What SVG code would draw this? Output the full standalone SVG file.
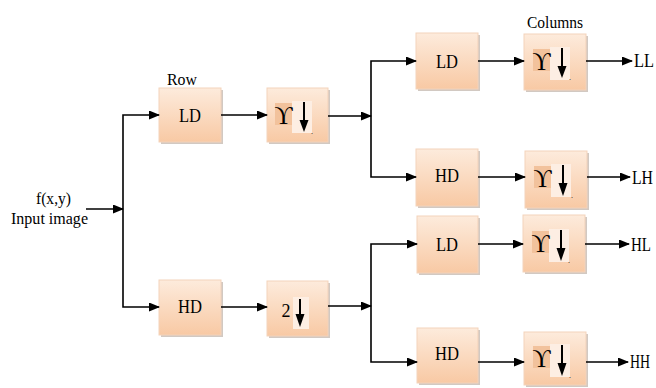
<svg xmlns="http://www.w3.org/2000/svg" width="656" height="388" viewBox="0 0 656 388">
<defs>
<linearGradient id="g" x1="0" y1="0" x2="0" y2="1">
<stop offset="0" stop-color="#fdebdc"/>
<stop offset="1" stop-color="#f8c9a4"/>
</linearGradient>
<marker id="ah" markerUnits="userSpaceOnUse" markerWidth="11" markerHeight="9" refX="10" refY="4.5" orient="auto">
<path d="M0,0 L11,4.5 L0,9 z" fill="#000"/>
</marker>
</defs>
<style>
.sh{fill:#d2c9c2}
.bx{fill:url(#g);stroke:#f3d3bb;stroke-width:1}
.t{font-family:"Liberation Serif","Times New Roman",serif;font-size:19px;fill:#000}
.l{font-family:"Liberation Serif","Times New Roman",serif;font-size:17px;fill:#000}
.u{font-family:"Liberation Serif","DejaVu Serif",serif;font-size:25px;fill:#000}
.dot{font-family:"Liberation Serif",serif;font-size:8px;fill:#000}
.two{font-family:"Liberation Serif",serif;font-size:18px;fill:#000}
.dk{fill:#f2c29c}
.lt{fill:#fdeee3}
.ca{fill:none;stroke:#000;stroke-width:1.6;marker-end:url(#ah)}
.da{stroke:#000;stroke-width:2}
</style>

<text class="l" x="167" y="85" textLength="30" lengthAdjust="spacingAndGlyphs">Row</text>
<text class="l" x="527" y="28" textLength="56" lengthAdjust="spacingAndGlyphs">Columns</text>
<text class="l" x="36" y="204" textLength="35" lengthAdjust="spacingAndGlyphs">f(x,y)</text>
<text class="l" x="11" y="224" textLength="77" lengthAdjust="spacingAndGlyphs">Input image</text>

<g id="LD1"><rect class="sh" x="161" y="90" width="62" height="54"/><rect class="bx" x="159" y="88" width="62" height="54"/><text class="t" x="190" y="122" text-anchor="middle" textLength="22" lengthAdjust="spacingAndGlyphs">LD</text></g>
<g id="D1"><rect class="sh" x="269" y="90" width="61" height="54"/><rect class="bx" x="267" y="88" width="61" height="54"/><rect class="dk" x="275" y="103" width="17" height="22"/><rect class="lt" x="292" y="101" width="20" height="32"/><text class="u" x="283.5" y="124" text-anchor="middle">ϒ</text><line class="da" x1="304" y1="102" x2="304" y2="122"/><path d="M299.5,120 L308.5,120 L304,132 z"/><text class="dot" x="311" y="134">.</text></g>
<g id="HD1"><rect class="sh" x="161" y="282" width="62" height="55"/><rect class="bx" x="159" y="280" width="62" height="55"/><text class="t" x="190" y="313" text-anchor="middle" textLength="24" lengthAdjust="spacingAndGlyphs">HD</text></g>
<g id="D2"><rect class="sh" x="269" y="283" width="61" height="55"/><rect class="bx" x="267" y="281" width="61" height="55"/><rect class="lt" x="293" y="297" width="16" height="32"/><text class="two" x="286" y="317" text-anchor="middle">2</text><line class="da" x1="300" y1="299" x2="300" y2="316"/><path d="M295.5,314 L304.5,314 L300,327 z"/></g>

<g id="LD2"><rect class="sh" x="418" y="35" width="62" height="56"/><rect class="bx" x="416" y="33" width="62" height="56"/><text class="t" x="447" y="68" text-anchor="middle" textLength="22" lengthAdjust="spacingAndGlyphs">LD</text></g>
<g id="C1"><rect class="sh" x="526" y="36" width="62" height="56"/><rect class="bx" x="524" y="34" width="62" height="56"/><rect class="dk" x="533" y="49" width="17" height="22"/><rect class="lt" x="550" y="47" width="20" height="33"/><text class="u" x="541.5" y="70" text-anchor="middle">ϒ</text><line class="da" x1="562" y1="48" x2="562" y2="68"/><path d="M557.5,66 L566.5,66 L562,78 z"/><text class="dot" x="569" y="80">.</text></g>
<g id="HD2"><rect class="sh" x="418" y="151" width="62" height="57"/><rect class="bx" x="416" y="149" width="62" height="57"/><text class="t" x="447" y="182" text-anchor="middle" textLength="24" lengthAdjust="spacingAndGlyphs">HD</text></g>
<g id="C2"><rect class="sh" x="527" y="153" width="62" height="57"/><rect class="bx" x="525" y="151" width="62" height="57"/><rect class="dk" x="534" y="166" width="17" height="22"/><rect class="lt" x="551" y="164" width="20" height="33"/><text class="u" x="542.5" y="187" text-anchor="middle">ϒ</text><line class="da" x1="563" y1="165" x2="563" y2="185"/><path d="M558.5,183 L567.5,183 L563,196 z"/><text class="dot" x="571" y="198">.</text></g>
<g id="LD3"><rect class="sh" x="419" y="218" width="61" height="57"/><rect class="bx" x="417" y="216" width="61" height="57"/><text class="t" x="447" y="251" text-anchor="middle" textLength="22" lengthAdjust="spacingAndGlyphs">LD</text></g>
<g id="C3"><rect class="sh" x="525" y="217" width="62" height="57"/><rect class="bx" x="523" y="215" width="62" height="57"/><rect class="dk" x="532" y="231" width="17" height="22"/><rect class="lt" x="549" y="229" width="20" height="33"/><text class="u" x="540.5" y="252" text-anchor="middle">ϒ</text><line class="da" x1="561" y1="230" x2="561" y2="250"/><path d="M556.5,248 L565.5,248 L561,261 z"/><text class="dot" x="568" y="263">.</text></g>
<g id="HD3"><rect class="sh" x="419" y="330" width="61" height="55"/><rect class="bx" x="417" y="328" width="61" height="55"/><text class="t" x="447" y="360" text-anchor="middle" textLength="24" lengthAdjust="spacingAndGlyphs">HD</text></g>
<g id="C4"><rect class="sh" x="526" y="334" width="62" height="53"/><rect class="bx" x="524" y="332" width="62" height="53"/><rect class="dk" x="533" y="346" width="17" height="22"/><rect class="lt" x="550" y="344" width="20" height="33"/><text class="u" x="541.5" y="367" text-anchor="middle">ϒ</text><line class="da" x1="562" y1="345" x2="562" y2="365"/><path d="M557.5,363 L566.5,363 L562,376 z"/><text class="dot" x="569" y="378">.</text></g>

<g id="outputs">
<text class="t" x="634" y="67" textLength="20" lengthAdjust="spacingAndGlyphs">LL</text>
<text class="t" x="632" y="184" textLength="21" lengthAdjust="spacingAndGlyphs">LH</text>
<text class="t" x="631" y="251" textLength="20" lengthAdjust="spacingAndGlyphs">HL</text>
<text class="t" x="630" y="368" textLength="20" lengthAdjust="spacingAndGlyphs">HH</text>
</g>

<g id="connectors">
<path class="ca" d="M86,209 H123"/>
<path class="ca" d="M123,209 V115 H159"/>
<path class="ca" d="M123,209 V307 H159"/>
<path class="ca" d="M221,115 H267"/>
<path class="ca" d="M221,307 H267"/>
<path class="ca" d="M328,116 H371"/>
<path class="ca" d="M371,116 V61 H416"/>
<path class="ca" d="M371,116 V177 H416"/>
<path class="ca" d="M328,306 H371"/>
<path class="ca" d="M371,306 V244 H417"/>
<path class="ca" d="M371,306 V362 H417"/>
<path class="ca" d="M478,61 H524"/>
<path class="ca" d="M586,61 H632"/>
<path class="ca" d="M478,177 H525"/>
<path class="ca" d="M587,177 H630"/>
<path class="ca" d="M478,244 H523"/>
<path class="ca" d="M585,244 H629"/>
<path class="ca" d="M478,362 H524"/>
<path class="ca" d="M586,362 H628"/>
</g>
</svg>
